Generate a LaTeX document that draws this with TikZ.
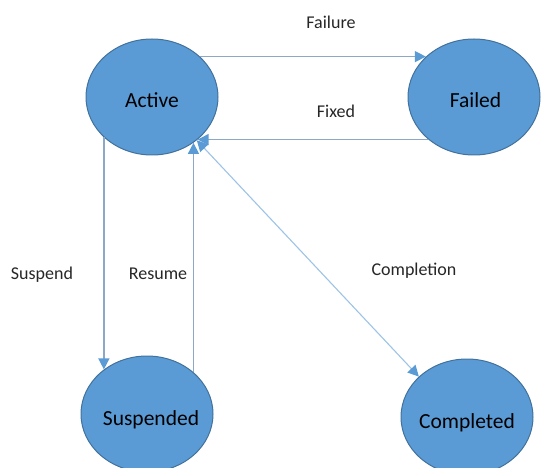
\documentclass[tikz,border=0pt]{standalone}
\usepackage{fontspec}
\setmainfont{Carlito}
\usetikzlibrary{arrows.meta,shapes.geometric}
\definecolor{stfill}{HTML}{5B9BD5}
\definecolor{stdraw}{HTML}{41719C}
\definecolor{linecol}{HTML}{8DA7C6}
\definecolor{lightline}{HTML}{9DC3E6}
\definecolor{labcol}{HTML}{262626}
\newcommand{\stxt}[2][0pt]{\raisebox{-11pt}[0pt][0pt]{\makebox[0pt]{\hspace*{#1}#2}}}
\tikzset{
  state/.style={ellipse, draw=stdraw, line width=1pt, fill=stfill,
    minimum width=132pt, minimum height=116pt, inner sep=0pt,
    font=\fontsize{21.5}{24}\selectfont, text=black},
  lab/.style={font=\fontsize{18}{20}\selectfont, text=labcol, inner sep=0pt},
  conn/.style={draw=linecol, line width=1.4pt,
    -{Triangle[length=11pt,width=11pt,color=stfill]}},
  conn2/.style={draw=lightline, line width=1.1pt,
    {Triangle[length=11pt,width=11pt,color=stfill]}-{Triangle[length=11pt,width=11pt,color=stfill]}}
}
\begin{document}
\begin{tikzpicture}[x=1pt,y=-1pt]
\useasboundingbox (0,0) rectangle (541,468);
\clip (0,0) rectangle (541,468);
\node[state] (active) at (152,97) {\stxt{Active}};
\node[state] (failed) at (474,97) {\stxt[3pt]{Failed}};
\node[state] (suspended) at (147,414) {\stxt[8pt]{Suspended}};
\node[state] (completed) at (467,417) {\stxt{Completed}};

\node[lab] (lfailure) at (331,22) {Failure};
\node[lab] (lfixed) at (336,111) {Fixed};
\node[lab] (lsuspend) at (42,275) {Suspend};
\node[lab] (lresume) at (158,274) {Resume};
\node[lab] (lcompletion) at (414,271) {Completion};

\draw[conn] (active.40) -- (failed.140);
\draw[conn] (failed.223) -- (active.-43);
\draw[conn] (active.220) -- (active.220 |- suspended.134);
\draw[conn] (suspended.42) -- (suspended.42 |- active.-48);
\draw[conn2] (active.-44) -- (completed.140);
\end{tikzpicture}
\end{document}
